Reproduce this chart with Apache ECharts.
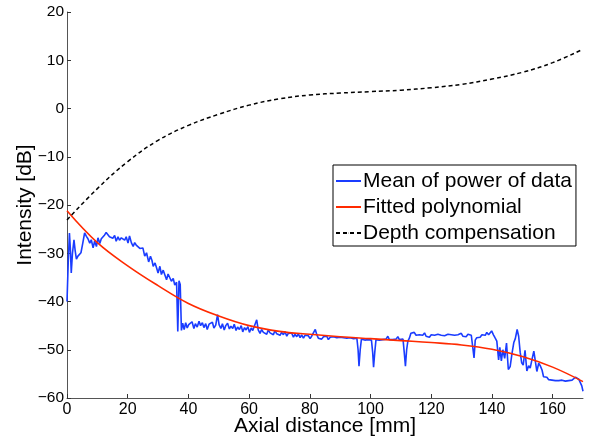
<!DOCTYPE html>
<html>
<head>
<meta charset="utf-8">
<script src="https://cdn.jsdelivr.net/npm/echarts@6/dist/echarts.min.js"></script>
<style>html,body{margin:0;padding:0;background:#fff;}#c{width:589px;height:440px;}</style>
</head>
<body>
<div id="c"></div>
<script>
// Axial distance [mm] positions and intensity [dB] of "Mean of power of data"
var meanX = [0,0.4,0.8,1.1,1.4,1.8,2.3,2.7,3.1,3.6,4.1,4.6,5.2,5.8,6.4,6.9,7.5,8.0,8.6,9.1,9.7,10.2,10.8,11.3,11.8,12.4,12.9,13.5,14.0,14.6,15.1,15.7,16.2,16.8,17.3,17.9,18.4,19.0,19.5,20.1,20.6,21.2,21.8,22.3,22.8,23.4,24.0,24.5,25.0,25.6,26.2,26.9,27.5,28.0,28.4,29.0,29.5,30.0,30.6,31.1,31.7,32.3,32.8,33.3,33.9,34.4,35.0,35.5,36.1,36.5,36.9,37.3,37.7,38.1,38.6,39.1,39.6,40.1,40.6,
41.2,41.8,42.3,42.9,43.5,44.0,44.6,45.1,45.7,46.2,46.8,47.3,47.9,48.4,49.0,49.6,50.1,50.7,51.2,51.8,52.3,52.9,53.5,54.0,54.6,55.1,55.7,56.2,56.8,57.4,57.9,58.5,59.0,59.6,60.1,60.7,61.2,61.8,62.5,63.0,63.6,64.1,64.7,65.2,65.8,66.3,66.9,67.4,68.0,68.5,69.1,69.6,70.2,70.7,71.3,71.8,72.4,72.9,73.5,74.0,74.6,75.1,75.7,76.2,76.8,77.3,77.9,78.4,79.0,79.5,80.1,80.6,81.2,81.8,82.3,82.8,83.4,83.9,84.5,85.0,85.6,86.1,86.7,87.2,87.8,88.3,88.9,89.4,90.0,90.5,91.1,91.6,92.2,92.7,93.3,93.8,94.4,94.9,95.5,95.9,96.2,96.6,97.0,97.6,98.1,98.7,99.2,99.8,100.3,100.7,101.0,101.4,101.8,102.3,102.9,103.4,104.0,104.5,105.1,105.7,106.2,106.8,107.3,107.9,108.4,109.0,109.5,110.1,110.7,111.1,111.5,111.9,112.3,112.8,113.3,113.9,114.4,115.0,115.5,116.1,116.6,117.2,117.8,118.3,118.9,119.4,120.0,120.5,121.1,121.6,122.2,122.7,123.3,123.8,124.4,124.9,125.5,126.0,126.6,127.1,127.7,128.2,128.8,129.3,129.9,130.4,131.0,131.5,132.1,132.6,133.2,133.6,134.1,134.5,135.0,135.6,136.1,136.7,137.2,137.8,138.3,138.9,139.4,139.9,140.5,141.0,141.6,142.2,142.6,143.1,143.6,144.2,144.8,145.4,146.0,146.6,147.2,147.7,148.3,148.8,149.3,149.8,150.3,150.9,151.5,152.1,152.6,153.2,153.8,154.3,154.8,155.4,155.9,156.5,157.0,157.6,158.1,158.7,159.2,159.8,160.3,160.9,161.4,162.0,162.5,163.1,163.6,164.2,164.7,165.3,165.8,166.4,166.9,167.5,168.0,168.6,169.1,169.6,170];
var meanY = [-40,-32,-25.8,-29,-34.1,-30,-27.2,-29.5,-31.2,-30.6,-30.8,-29.9,-27.9,-25.8,-26.5,-27.0,-27.9,-27.2,-28.9,-27.5,-28.6,-26.8,-28.0,-27.0,-27.3,-26.2,-25.7,-26.0,-26.6,-26.5,-26.9,-26.3,-27.5,-26.6,-27.3,-26.8,-26.5,-27.3,-26.6,-27.9,-26.4,-27.8,-28.6,-27.8,-28.3,-28.0,-29.0,-29.3,-28.9,-30.6,-29.9,-31.8,-30.6,-31.5,-32.7,-32.0,-33.0,-34.1,-32.7,-34.4,-33.5,-33.8,-35.5,-34.3,-34.7,-35.8,-35.2,-36.6,-36.0,-46.2,-35.7,-36.5,-46.0,-44.5,-45.8,-44.4,-45.5,-44.8,-45.1,
-44.2,-45.6,-44.6,-45.3,-44.1,-45.0,-44.4,-45.4,-44.6,-45.8,-44.7,-45.1,-44.3,-45.5,-44.9,-42.7,-44.8,-45.6,-44.6,-45.9,-45.0,-44.5,-45.7,-45.1,-45.6,-44.7,-46.0,-45.3,-45.8,-45.0,-46.3,-45.4,-45.9,-45.2,-46.4,-45.5,-46.0,-45.6,-43.8,-45.9,-46.6,-45.8,-46.4,-46.0,-46.8,-45.9,-46.5,-46.2,-46.9,-46.0,-46.7,-46.3,-47.0,-46.4,-46.9,-46.2,-47.2,-46.6,-47.0,-46.5,-47.4,-46.8,-47.3,-46.7,-47.5,-46.9,-47.6,-47.0,-47.4,-47.1,-47.7,-47.2,-47.5,-45.8,-46.9,-47.6,-47.2,-47.8,-47.3,-47.6,-47.2,-47.9,-47.4,-47.8,-47.3,-47.7,-47.5,-47.9,-47.4,-47.8,-47.5,-47.9,-47.6,-47.8,-47.5,-47.9,-47.7,-47.8,-47.6,-50,-53.4,-50,-47.8,-47.6,-48.0,-47.7,-47.9,-47.6,-48.0,-50.5,-53.6,-50.5,-47.9,-47.7,-48.0,-47.6,-47.9,-47.7,-47.8,-47.2,-47.9,-47.6,-47.9,-47.5,-47.8,-47.3,-47.9,-47.6,-47.8,-50.5,-53.4,-50,-48.2,-47.6,-46.6,-46.9,-46.4,-47.0,-47.2,-46.9,-47.3,-47.0,-46.5,-47.2,-47.0,-47.4,-46.9,-47.3,-47.0,-47.4,-46.8,-47.2,-47.0,-46.6,-47.1,-47.3,-46.8,-47.2,-46.9,-47.3,-47.0,-47.4,-46.9,-47.1,-46.6,-47.2,-46.9,-47.3,-46.8,-47.1,-47.0,-47.4,-51.7,-48.0,-47.5,-47.1,-47.4,-46.9,-47.3,-47.0,-46.4,-46.9,-46.6,-46.1,-46.9,-47.5,-48.2,-52.1,-49.5,-52.3,-50.0,-51.8,-48.6,-54.1,-53.5,-50.8,-48.5,-47.7,-45.8,-47.2,-50.5,-52.7,-53.2,-50.1,-54.4,-53.3,-53.8,-52.0,-50.3,-50.2,-54.5,-52.8,-53.3,-54.2,-55.6,-55.9,-55.7,-56.2,-55.8,-56.3,-56.0,-56.4,-56.1,-56.4,-56.0,-56.3,-56.1,-56.5,-56.2,-56.4,-56.0,-56.3,-56.0,-55.7,-55.6,-56.1,-55.7,-57.5,-58.6];

// Fitted polynomial
var fitX = [0,10,20,30,40,50,60,70,80,90,100,110,120,130,140,150,160,170];
var fitY = [-21.2,-27.8,-32.6,-36.7,-40.4,-43.0,-45.0,-46.2,-46.8,-47.3,-47.7,-48.1,-48.5,-49.0,-49.9,-51.4,-53.6,-56.6];

// Depth compensation
var compX = [0,10,20,30,40,50,60,70,80,90,100,110,120,130,140,150,160,170];
var compY = [-23.1,-16.6,-11.0,-6.6,-3.5,-1.2,0.7,2.0,2.8,3.2,3.5,3.8,4.3,5.0,6.1,7.5,9.5,12.3];

var xTicks = [0,20,40,60,80,100,120,140,160];
var seriesNames = ['Mean of power of data','Fitted polynomial','Depth compensation'];

function pairs(xs, ys){ return xs.map(function(x,i){ return [x, ys[i]]; }); }
function minus(v){ return String(v).replace('-', '\u2212'); }

var FONT = 'Liberation Sans, Arial, Helvetica, sans-serif';
var chart = echarts.init(document.getElementById('c'), null, {renderer:'canvas'});
chart.setOption({
  animation: false,
  backgroundColor: '#fff',
  textStyle: {fontFamily: FONT},
  grid: {left: 67, right: 6, top: 12, bottom: 42, containLabel: false, outerBoundsMode: 'none'},
  legend: {
    orient: 'vertical', left: 333, top: 165,
    padding: [3, 4, 0, 2], itemGap: 0,
    itemWidth: 25, itemHeight: 1,
    backgroundColor: '#fff', borderColor: '#000', borderWidth: 1, borderRadius: 0,
    textStyle: {fontFamily: FONT, fontSize: 21, color: '#000', lineHeight: 26, padding: [0,0,0,-3]},
    data: seriesNames.map(function(n){ return {name: n}; })
  },
  xAxis: {
    type: 'value', min: 0, max: 170,
    name: 'Axial distance [mm]', nameLocation: 'middle', nameGap: 18, nameMoveOverlap: false,
    nameTextStyle: {fontFamily: FONT, fontSize: 21, color: '#000'},
    axisLine: {show: true, onZero: false, lineStyle: {color: '#555', width: 1}},
    axisTick: {show: true, inside: true, length: 4, lineStyle: {color: '#333'}, customValues: xTicks},
    axisLabel: {fontFamily: FONT, fontSize: 16, color: '#000', margin: 4, customValues: xTicks, formatter: minus},
    splitLine: {show: false}
  },
  yAxis: {
    type: 'value', min: -60, max: 20, interval: 10,
    name: 'Intensity [dB]', nameLocation: 'middle', nameGap: 31, nameRotate: 90, nameMoveOverlap: false,
    nameTextStyle: {fontFamily: FONT, fontSize: 21, color: '#000'},
    axisLine: {show: true, onZero: false, lineStyle: {color: '#555', width: 1}},
    axisTick: {show: true, inside: true, length: 4, lineStyle: {color: '#333'}},
    axisLabel: {fontFamily: FONT, fontSize: 15.5, color: '#000', margin: 3, formatter: minus},
    splitLine: {show: false}
  },
  series: [
    {name: seriesNames[0], type: 'line', data: pairs(meanX, meanY), symbol: 'none', showSymbol: false,
     lineStyle: {color: '#1a3cff', width: 1.6}, itemStyle: {color: '#1a3cff'}, z: 2},
    {name: seriesNames[1], type: 'line', data: pairs(fitX, fitY), symbol: 'none', showSymbol: false, smooth: 0.4,
     lineStyle: {color: '#ff2a00', width: 1.6}, itemStyle: {color: '#ff2a00'}, z: 3},
    {name: seriesNames[2], type: 'line', data: pairs(compX, compY), symbol: 'none', showSymbol: false, smooth: 0.4,
     lineStyle: {color: '#000', width: 1.5, type: [4, 3]}, itemStyle: {color: '#000'}, z: 4}
  ]
});
</script>
</body>
</html>
